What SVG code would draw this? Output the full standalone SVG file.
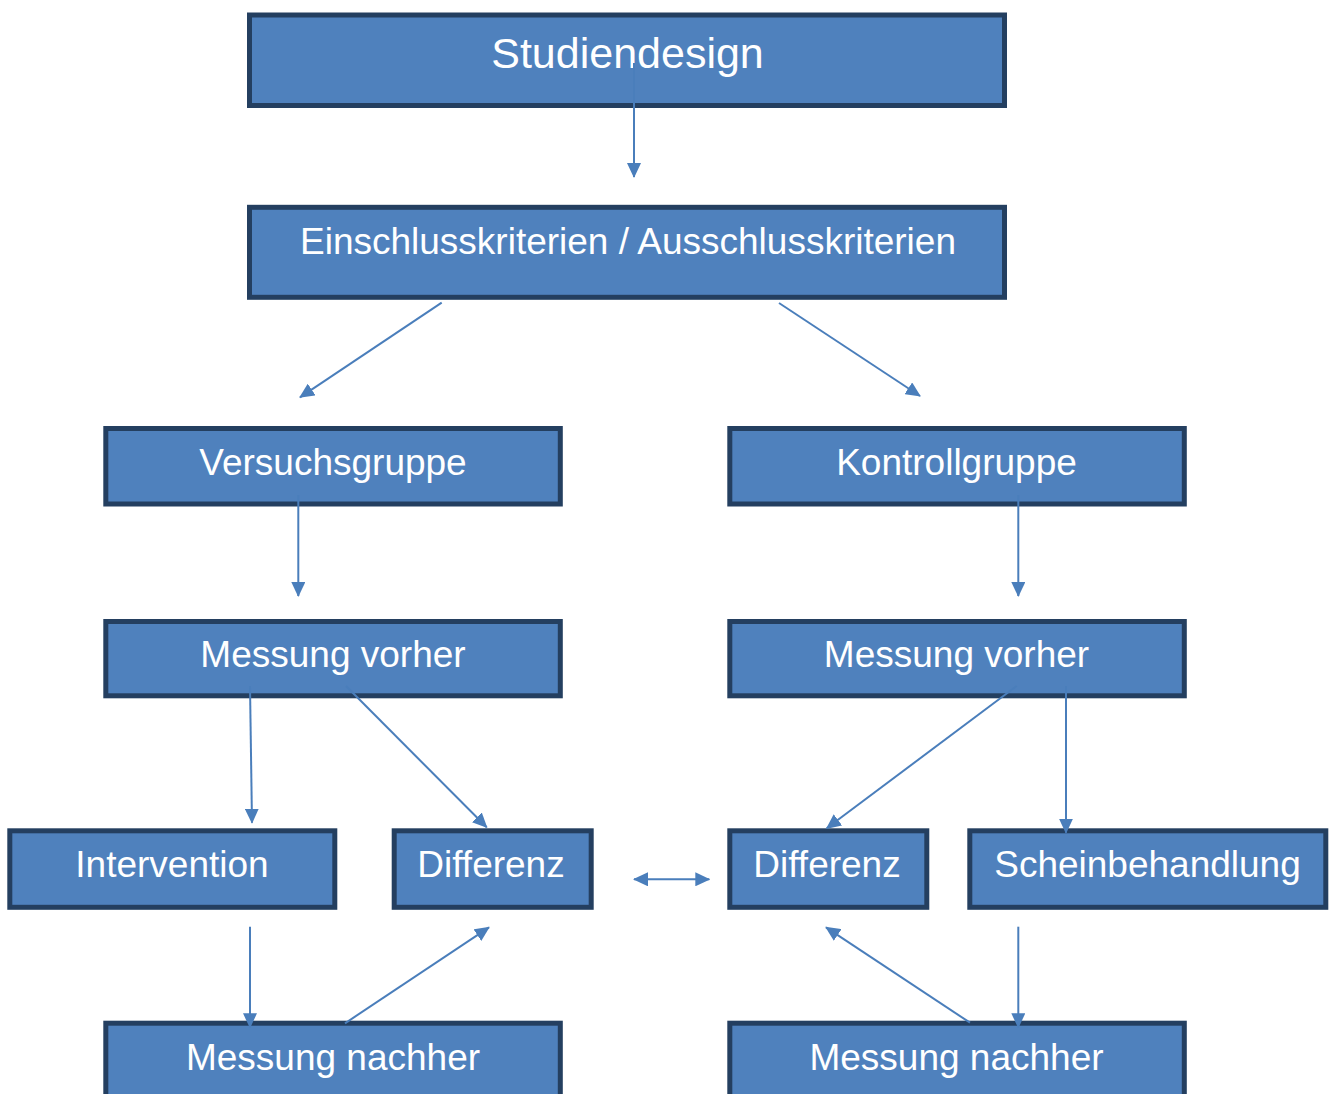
<svg xmlns="http://www.w3.org/2000/svg" width="1330" height="1094" viewBox="0 0 1330 1094">
<style>
.box{fill:#4F81BD;stroke:#243F60;stroke-width:5}
.lbl{font-family:"Liberation Sans",Arial,sans-serif;font-size:37px;fill:#FFFFFF;text-anchor:middle}
.big{font-size:43px}
.con{stroke:#4A7EBB;stroke-width:2;fill:none;marker-end:url(#ah)}
</style>
<defs>
<marker id="ah" viewBox="0 0 15 14" markerWidth="15" markerHeight="14" refX="14" refY="7" orient="auto-start-reverse" markerUnits="userSpaceOnUse">
<path d="M0,0 L15,7 L0,14 z" fill="#4A7EBB"/>
</marker>
</defs>
<rect width="1330" height="1094" fill="#FFFFFF"/>
<g id="n-studiendesign"><rect class="box" x="249.5" y="15" width="755" height="90.5"/><text class="lbl big" x="627.5" y="67.7">Studiendesign</text></g>
<g id="n-kriterien"><rect class="box" x="249.5" y="207.3" width="755" height="90"/><text class="lbl" x="628" y="254.3">Einschlusskriterien / Ausschlusskriterien</text></g>
<g id="n-versuchsgruppe"><rect class="box" x="105.8" y="428.5" width="454.5" height="75.5"/><text class="lbl" x="333" y="475">Versuchsgruppe</text></g>
<g id="n-kontrollgruppe"><rect class="box" x="729.8" y="428.5" width="454.5" height="75.5"/><text class="lbl" x="956.5" y="475">Kontrollgruppe</text></g>
<g id="n-messung-vorher-l"><rect class="box" x="105.8" y="621.5" width="454.5" height="74.3"/><text class="lbl" x="333" y="667">Messung vorher</text></g>
<g id="n-messung-vorher-r"><rect class="box" x="729.8" y="621.5" width="454.5" height="74.3"/><text class="lbl" x="956.5" y="667">Messung vorher</text></g>
<g id="n-intervention"><rect class="box" x="9.8" y="830.8" width="325" height="76.5"/><text class="lbl" x="172" y="877.3">Intervention</text></g>
<g id="n-differenz-l"><rect class="box" x="394.2" y="830.8" width="197" height="76.5"/><text class="lbl" x="491" y="877.3">Differenz</text></g>
<g id="n-differenz-r"><rect class="box" x="729.8" y="830.8" width="197" height="76.5"/><text class="lbl" x="827" y="877.3">Differenz</text></g>
<g id="n-scheinbehandlung"><rect class="box" x="969.8" y="830.8" width="356" height="76.5"/><text class="lbl" x="1147.5" y="877.3">Scheinbehandlung</text></g>
<g id="n-messung-nachher-l"><rect class="box" x="105.8" y="1023.2" width="454.5" height="100"/><text class="lbl" x="333" y="1070">Messung nachher</text></g>
<g id="n-messung-nachher-r"><rect class="box" x="729.8" y="1023.2" width="454.5" height="100"/><text class="lbl" x="956.5" y="1070">Messung nachher</text></g>
<g id="connectors">
<line class="con" x1="634" y1="63" x2="634" y2="177"/>
<line class="con" x1="441.7" y1="302.7" x2="300" y2="397.3"/>
<line class="con" x1="779" y1="303" x2="920" y2="396"/>
<line class="con" x1="298.3" y1="495" x2="298.3" y2="596"/>
<line class="con" x1="1018.3" y1="495" x2="1018.3" y2="596"/>
<line class="con" x1="250" y1="686" x2="252" y2="822.7"/>
<line class="con" x1="346" y1="686" x2="486.7" y2="827.3"/>
<line class="con" x1="1016.7" y1="686" x2="826.7" y2="828.3"/>
<line class="con" x1="1066" y1="686" x2="1066" y2="832.7"/>
<line class="con" x1="634" y1="879.3" x2="709.3" y2="879.3" marker-start="url(#ah)"/>
<line class="con" x1="250" y1="926.7" x2="250" y2="1027.3"/>
<line class="con" x1="345" y1="1023.3" x2="489" y2="927.3"/>
<line class="con" x1="970" y1="1022.7" x2="826" y2="927.3"/>
<line class="con" x1="1018.3" y1="926.7" x2="1018.3" y2="1027.3"/>
</g>
</svg>
